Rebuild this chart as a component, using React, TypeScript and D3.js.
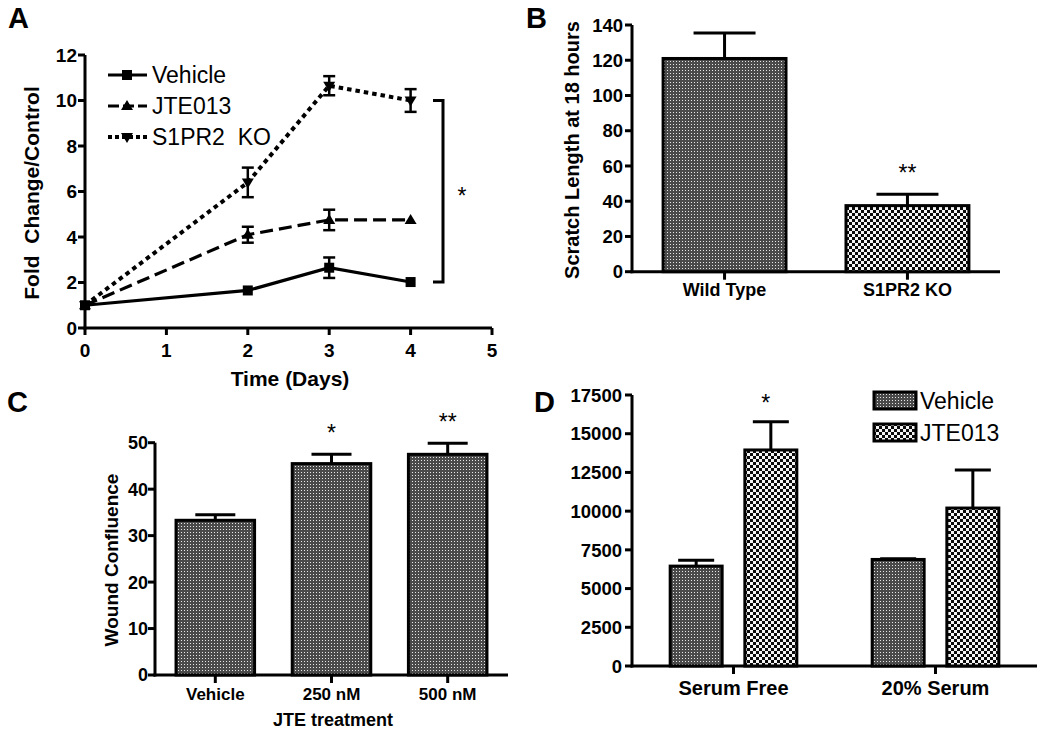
import React from "react";
import * as d3 from "d3";

// Panel A: fold change over time
const days = [0, 2, 3, 4];
const vehicleFold = [1.0, 1.65, 2.65, 2.02];
const vehicleFoldErr = [0, 0, 0.45, 0];
const jteFold = [1.0, 4.1, 4.75, 4.75];
const jteFoldErr = [0, 0.35, 0.45, 0];
const koFold = [1.0, 6.4, 10.65, 10.0];
const koFoldErr = [0, 0.65, 0.42, 0.5];
const foldTicks = [0, 2, 4, 6, 8, 10, 12];
const dayTicks = [0, 1, 2, 3, 4, 5];

// Panel B: scratch length
const scratchGroups = ["Wild Type", "S1PR2 KO"];
const scratchLength = [121, 37.5];
const scratchErr = [14.5, 6.5];
const scratchStars = ["", "**"];
const scratchTicks = [0, 20, 40, 60, 80, 100, 120, 140];

// Panel C: wound confluence
const confluenceGroups = ["Vehicle", "250 nM", "500 nM"];
const confluence = [33.3, 45.5, 47.5];
const confluenceErr = [1.2, 2.0, 2.4];
const confluenceStars = ["", "*", "**"];
const confluenceTicks = [0, 10, 20, 30, 40, 50];

// Panel D: serum
const serumGroups = ["Serum Free", "20% Serum"];
const serumTreatments = ["Vehicle", "JTE013"];
const serumVehicle = [6450, 6880];
const serumVehicleErr = [380, 40];
const serumJte = [13950, 10200];
const serumJteErr = [1820, 2450];
const serumStars = ["*", ""];
const serumTicks = [0, 2500, 5000, 7500, 10000, 12500, 15000, 17500];

const FONT = "'Liberation Sans', Arial, sans-serif";
const AX = 3;

function Patterns() {
  return (
    <defs>
      <pattern id="fine" width={3} height={3} patternUnits="userSpaceOnUse">
        <rect width={3} height={3} fill="#4a4a4a" />
        <rect x={1} y={1} width={1} height={1} fill="#e8e8e8" />
      </pattern>
      {/* black/white checkerboard for the treated bars */}
      <pattern id="coarse" width={6} height={6} patternUnits="userSpaceOnUse">
        <rect width={6} height={6} fill="#0a0a0a" />
        <rect x={0} y={0} width={3} height={3} fill="#f4f4f4" />
        <rect x={3} y={3} width={3} height={3} fill="#f4f4f4" />
      </pattern>
    </defs>
  );
}

function YAxis({ scale, ticks, x, size, labelX }: any) {
  const [y0, y1] = scale.range();
  return (
    <g>
      <line x1={x} x2={x} y1={y0 + AX / 2} y2={y1} stroke="#000" strokeWidth={AX} />
      {ticks.map((t: number) => (
        <g key={t}>
          <line x1={x - 7} x2={x} y1={scale(t)} y2={scale(t)} stroke="#000" strokeWidth={AX} />
          <text x={labelX} y={scale(t)} dy="0.36em" textAnchor="end" fontSize={size} fontWeight="bold" fontFamily={FONT}>
            {t}
          </text>
        </g>
      ))}
    </g>
  );
}

function PanelA() {
  const x = d3.scaleLinear().domain([0, 5]).range([85, 492]);
  const y = d3.scaleLinear().domain([0, 12]).range([328, 55]);
  const line = d3.line<number>().x((_, i) => x(days[i])).y((d) => y(d));
  const series = [
    { name: "Vehicle", vals: vehicleFold, err: vehicleFoldErr, dash: "none", marker: "square" },
    { name: "JTE013", vals: jteFold, err: jteFoldErr, dash: "13 6", marker: "up" },
    { name: "S1PR2\u00a0\u00a0KO", vals: koFold, err: koFoldErr, dash: "4.5 4", marker: "down" },
  ];
  const marker = (m: string, cx: number, cy: number, k: any) => {
    if (m === "square") return <rect key={k} x={cx - 5} y={cy - 5} width={10} height={10} fill="#000" />;
    const s = m === "up" ? 1 : -1;
    return (
      <path
        key={k}
        d={`M${cx},${cy - 6 * s} L${cx + 6},${cy + 4 * s} L${cx - 6},${cy + 4 * s} Z`}
        fill="#000"
      />
    );
  };
  const last = days.length - 1;
  const bTop = y(koFold[last]);
  const bBot = y(vehicleFold[last]);
  return (
    <g fontFamily={FONT}>
      <text x={8} y={28} fontSize={29} fontWeight="bold">A</text>
      <YAxis scale={y} ticks={foldTicks} x={85} size={19} labelX={77} />
      <line x1={85 - AX / 2} x2={x(5)} y1={328} y2={328} stroke="#000" strokeWidth={AX} />
      {dayTicks.map((t) => (
        <g key={t}>
          <line x1={x(t)} x2={x(t)} y1={328} y2={335} stroke="#000" strokeWidth={AX} />
          <text x={x(t)} y={357} textAnchor="middle" fontSize={19} fontWeight="bold">{t}</text>
        </g>
      ))}
      <text transform="translate(39,193) rotate(-90)" textAnchor="middle" fontSize={21} fontWeight="bold">
        {"Fold\u00a0\u00a0Change/Control"}
      </text>
      <text x={290} y={386} textAnchor="middle" fontSize={21} fontWeight="bold">Time (Days)</text>
      {series.map((s, si) => (
        <g key={s.name}>
          <path d={line(s.vals) || ""} fill="none" stroke="#000" strokeWidth={si === 2 ? 4 : 3.2} strokeDasharray={s.dash} />
          {s.vals.map((v, i) =>
            s.err[i] > 0 ? (
              <g key={i} stroke="#000" strokeWidth={2.5}>
                <line x1={x(days[i])} x2={x(days[i])} y1={y(v - s.err[i])} y2={y(v + s.err[i])} />
                <line x1={x(days[i]) - 6} x2={x(days[i]) + 6} y1={y(v - s.err[i])} y2={y(v - s.err[i])} />
                <line x1={x(days[i]) - 6} x2={x(days[i]) + 6} y1={y(v + s.err[i])} y2={y(v + s.err[i])} />
              </g>
            ) : null
          )}
          {s.vals.map((v, i) => marker(s.marker, x(days[i]), y(v), i))}
          <line x1={108} x2={147} y1={75 + si * 31} y2={75 + si * 31} stroke="#000" strokeWidth={si === 2 ? 4 : 3.2} strokeDasharray={si === 1 ? "11 4" : si === 2 ? "4 3" : "none"} />
          {marker(s.marker, 127, 75 + si * 31, "lg")}
          <text x={152} y={75 + si * 31} dy="0.36em" fontSize={23}>{s.name}</text>
        </g>
      ))}
      <path d={`M433,${bTop} H443 V${bBot} H433`} fill="none" stroke="#000" strokeWidth={3} />
      <text x={462} y={(bTop + bBot) / 2 + 13} textAnchor="middle" fontSize={23}>*</text>
    </g>
  );
}

function BarPanel({ groups, values, errs, stars, ticks, yMax, yRange, xRange, inner, outer, fill, capW, tickSize, catSize, catY, letter, letterPos, yLabel, yLabelPos, yLabelSize, tickLabelX, starSize, xTitle }: any) {
  const y = d3.scaleLinear().domain([0, yMax]).range(yRange);
  const x = d3.scaleBand<string>().domain(groups).range(xRange).paddingInner(inner).paddingOuter(outer);
  const base = yRange[0];
  return (
    <g fontFamily={FONT}>
      <text x={letterPos[0]} y={letterPos[1]} fontSize={29} fontWeight="bold">{letter}</text>
      <YAxis scale={y} ticks={ticks} x={xRange[0]} size={tickSize} labelX={tickLabelX} />
      <line x1={xRange[0] - AX / 2} x2={xRange[1]} y1={base} y2={base} stroke="#000" strokeWidth={AX} />
      {groups.map((g: string, i: number) => {
        const cx = (x(g) as number) + x.bandwidth() / 2;
        const top = y(values[i]);
        const et = y(values[i] + errs[i]);
        return (
          <g key={g}>
            <line x1={cx} x2={cx} y1={top} y2={et} stroke="#000" strokeWidth={3} />
            <line x1={cx - capW / 2} x2={cx + capW / 2} y1={et} y2={et} stroke="#000" strokeWidth={3} />
            <rect x={x(g)} y={top} width={x.bandwidth()} height={base - top} fill={fill[i]} stroke="#000" strokeWidth={3} />
            <line x1={cx} x2={cx} y1={base} y2={base + 8} stroke="#000" strokeWidth={AX} />
            <text x={cx} y={catY} textAnchor="middle" fontSize={catSize} fontWeight="bold">{g}</text>
            {stars[i] ? (
              <text x={cx} y={et - 13} textAnchor="middle" fontSize={starSize}>{stars[i]}</text>
            ) : null}
          </g>
        );
      })}
      <text transform={`translate(${yLabelPos[0]},${yLabelPos[1]}) rotate(-90)`} textAnchor="middle" fontSize={yLabelSize} fontWeight="bold">
        {yLabel}
      </text>
      {xTitle ? (
        <text x={xTitle[1]} y={xTitle[2]} textAnchor="middle" fontSize={18} fontWeight="bold">{xTitle[0]}</text>
      ) : null}
    </g>
  );
}

function PanelD() {
  const yRange = [666, 395];
  const xRange = [632, 1037];
  const y = d3.scaleLinear().domain([0, 17500]).range(yRange);
  const x0 = d3.scaleBand<string>().domain(serumGroups).range(xRange).paddingInner(0.373).paddingOuter(0.189);
  const x1 = d3.scaleBand<string>().domain(serumTreatments).range([0, x0.bandwidth()]).paddingInner(0.304);
  const base = yRange[0];
  const fills = ["url(#fine)", "url(#coarse)"];
  const tv = [serumVehicle, serumJte];
  const te = [serumVehicleErr, serumJteErr];
  return (
    <g fontFamily={FONT}>
      <text x={534} y={412} fontSize={29} fontWeight="bold">D</text>
      <YAxis scale={y} ticks={serumTicks} x={632} size={18.5} labelX={622} />
      <line x1={632 - AX / 2} x2={1037} y1={base} y2={base} stroke="#000" strokeWidth={AX} />
      {serumGroups.map((g, gi) => {
        const gx = x0(g) as number;
        const gc = gx + x0.bandwidth() / 2;
        return (
          <g key={g}>
            {serumTreatments.map((t, ti) => {
              const bx = gx + (x1(t) as number);
              const cx = bx + x1.bandwidth() / 2;
              const v = tv[ti][gi];
              const et = y(v + te[ti][gi]);
              return (
                <g key={t}>
                  <line x1={cx} x2={cx} y1={y(v)} y2={et} stroke="#000" strokeWidth={3} />
                  <line x1={cx - 18} x2={cx + 18} y1={et} y2={et} stroke="#000" strokeWidth={3} />
                  <rect x={bx} y={y(v)} width={x1.bandwidth()} height={base - y(v)} fill={fills[ti]} stroke="#000" strokeWidth={3} />
                  {ti === 1 && serumStars[gi] ? (
                    <text x={cx - 5} y={411} textAnchor="middle" fontSize={23}>{serumStars[gi]}</text>
                  ) : null}
                </g>
              );
            })}
            <line x1={gc} x2={gc} y1={base} y2={base + 8} stroke="#000" strokeWidth={AX} />
            <text x={gc} y={695} textAnchor="middle" fontSize={20} fontWeight="bold">{g}</text>
          </g>
        );
      })}
      {serumTreatments.map((t, ti) => (
        <g key={t}>
          <rect x={874} y={392 + ti * 32} width={42} height={17} fill={fills[ti]} stroke="#000" strokeWidth={3} />
          <text x={920} y={400.5 + ti * 32} dy="0.36em" fontSize={23}>{t}</text>
        </g>
      ))}
    </g>
  );
}

export default function App() {
  return (
    <svg width={1050} height={733} style={{ position: "absolute", left: 0, top: 0, background: "#fff" }}>
      <Patterns />
      <rect width={1050} height={733} fill="#fff" />
      <PanelA />
      <BarPanel
        groups={scratchGroups}
        values={scratchLength}
        errs={scratchErr}
        stars={scratchStars}
        ticks={scratchTicks}
        yMax={140}
        yRange={[271.7, 25]}
        xRange={[632, 1000]}
        inner={0.328}
        outer={0.17}
        fill={["url(#fine)", "url(#coarse)"]}
        capW={62}
        tickSize={18.5}
        catSize={18}
        catY={296}
        letter="B"
        letterPos={[526, 28]}
        yLabel="Scratch Length at 18 hours"
        yLabelPos={[579, 150]}
        yLabelSize={20}
        tickLabelX={623}
        starSize={23}
      />
      <BarPanel
        groups={confluenceGroups}
        values={confluence}
        errs={confluenceErr}
        stars={confluenceStars}
        ticks={confluenceTicks}
        yMax={50}
        yRange={[675, 442.7]}
        xRange={[155, 508]}
        inner={0.324}
        outer={0.181}
        fill={["url(#fine)", "url(#fine)", "url(#fine)"]}
        capW={40}
        tickSize={18}
        catSize={17}
        catY={700}
        letter="C"
        letterPos={[7, 412]}
        yLabel="Wound Confluence"
        yLabelPos={[118, 560]}
        yLabelSize={19}
        tickLabelX={148}
        starSize={23}
        xTitle={["JTE treatment", 333, 726]}
      />
      <PanelD />
    </svg>
  );
}
